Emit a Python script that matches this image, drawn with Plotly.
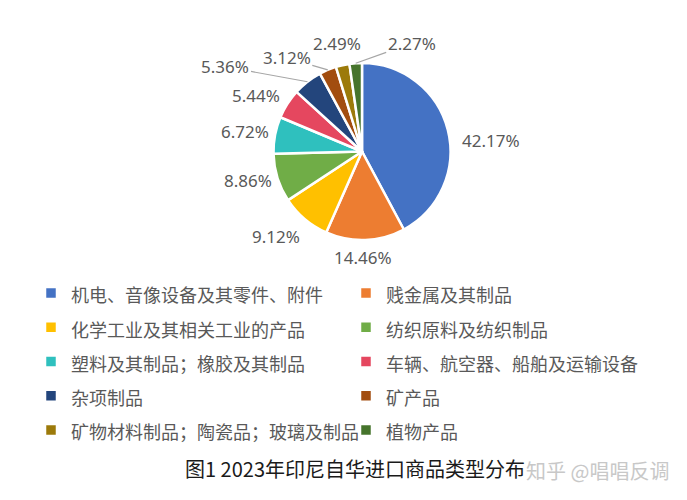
import math
import plotly.graph_objects as go

# ---- data ----
categories = [
    "机电、音像设备及其零件、附件",
    "贱金属及其制品",
    "化学工业及其相关工业的产品",
    "纺织原料及纺织制品",
    "塑料及其制品；橡胶及其制品",
    "车辆、航空器、船舶及运输设备",
    "杂项制品",
    "矿产品",
    "矿物材料制品；陶瓷品；玻璃及制品",
    "植物产品",
]
shares = [42.17, 14.46, 9.12, 8.86, 6.72, 5.44, 5.36, 3.12, 2.49, 2.27]
colors = ["#4472C4", "#ED7D31", "#FFC000", "#70AD47", "#2FC0BE",
          "#E5475F", "#23457C", "#A24D0F", "#9C7A0A", "#46742C"]
title_text = "图1 2023年印尼自华进口商品类型分布"
watermark_text = "知乎 @唱唱反调"

# ---- layout (label placement relative to each slice's outer mid point, px) ----
label_offsets = [(43, 11), (-2, 18), (-29, 17), (-30, 3), (-30, -4),
                 (-31, -8), (-82, -15), (-41, -12), (-6, -22), (56, -20)]
leader_lines = [False, False, False, False, False, False, True, True, False, True]

W, H = 687, 500
dom_x = [273.5 / W, 450.5 / W]
dom_y = [1 - 240 / H, 1 - 63 / H]

legend_labels = ['<span style="font-size:18px">%s</span>' % c for c in categories]

fig = go.Figure(go.Pie(
    labels=legend_labels,
    values=shares,
    sort=False,
    direction="clockwise",
    rotation=0,
    marker=dict(colors=colors, line=dict(color="white", width=2.5)),
    textinfo="none",
    domain=dict(x=dom_x, y=dom_y),
    hovertemplate="%{label}: %{value:.2f}%<extra></extra>",
))

# pie geometry (paper / pixel) derived from the domain
cx = (dom_x[0] + dom_x[1]) / 2
cy = (dom_y[0] + dom_y[1]) / 2
r_px = min((dom_x[1] - dom_x[0]) * W, (dom_y[1] - dom_y[0]) * H) / 2

total = sum(shares)
annotations = []
cum = 0.0
for v, (dx, dy), lead in zip(shares, label_offsets, leader_lines):
    ang = 2 * math.pi * (cum + v / 2) / total
    cum += v
    ex = cx + r_px * math.sin(ang) / W
    ey = cy + r_px * math.cos(ang) / H
    txt = "%.2f%%" % v
    font = dict(size=17, color="#595959", family="Noto Sans")
    if lead:
        annotations.append(dict(
            x=ex, y=ey, xref="paper", yref="paper", text=txt, font=font,
            showarrow=True, ax=dx, ay=dy, arrowhead=0, arrowwidth=1.2,
            arrowcolor="#a6a6a6", standoff=0, startstandoff=0,
        ))
    else:
        annotations.append(dict(
            x=ex, y=ey, xref="paper", yref="paper", text=txt, font=font,
            showarrow=False, xanchor="center", yanchor="middle",
            xshift=dx, yshift=-dy,
        ))

annotations.append(dict(
    text=watermark_text,
    x=597 / W, y=1 - 470 / H, xref="paper", yref="paper",
    xanchor="center", yanchor="middle", showarrow=False,
    font=dict(size=20, color="#c8c8c8", family="Noto Sans CJK SC"),
))

fig.update_layout(
    width=W, height=H,
    margin=dict(l=0, r=0, t=0, b=0),
    paper_bgcolor="white",
    plot_bgcolor="white",
    showlegend=True,
    legend=dict(
        orientation="h",
        x=31 / W, y=1 - 271 / H,
        xanchor="left", yanchor="top",
        entrywidth=270, entrywidthmode="pixels",
        font=dict(size=24, color="#595959", family="Noto Sans CJK SC"),
        bgcolor="rgba(0,0,0,0)",
    ),
    title=dict(
        text=title_text,
        x=355 / W, y=1 - 470 / H,
        xanchor="center", yanchor="middle",
        font=dict(size=20, color="#1a1a1a", family="Noto Sans CJK SC"),
    ),
    annotations=annotations,
)

fig.write_html("out.html")
